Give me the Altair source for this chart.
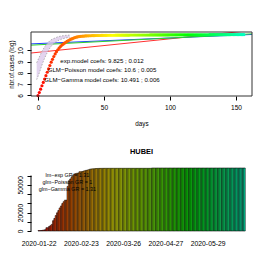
import altair as alt
import pandas as pd

# ---------------- data ----------------
days = list(range(157))
log_cases = [
    5.98, 6.25, 6.55, 6.85, 7.15, 7.45, 7.75, 8.05, 8.35, 8.65,
    8.95, 9.20, 9.45, 9.68, 9.88, 10.05, 10.20, 10.33, 10.45, 10.55,
    10.64, 10.72, 10.80, 10.87, 10.93, 10.99, 11.04, 11.09, 11.13, 11.17,
    11.20, 11.22, 11.24, 11.25, 11.26, 11.27, 11.28, 11.29, 11.29, 11.30,
    11.30, 11.31, 11.31, 11.31, 11.32, 11.32, 11.32, 11.32, 11.33, 11.33,
    11.33, 11.33, 11.33, 11.34, 11.34, 11.34, 11.34, 11.34, 11.34, 11.35,
    11.35, 11.35, 11.35, 11.35, 11.35, 11.35, 11.35, 11.35, 11.35, 11.35,
    11.36, 11.36, 11.36, 11.36, 11.36, 11.36, 11.36, 11.36, 11.36, 11.36,
    11.36, 11.36, 11.36, 11.36, 11.36, 11.37, 11.37, 11.37, 11.37, 11.37,
    11.37, 11.37, 11.37, 11.37, 11.37, 11.37, 11.37, 11.37, 11.37, 11.37,
    11.38, 11.38, 11.38, 11.38, 11.38, 11.38, 11.38, 11.38, 11.38, 11.38,
    11.38, 11.38, 11.38, 11.38, 11.38, 11.38, 11.38, 11.38, 11.38, 11.38,
    11.38, 11.38, 11.38, 11.38, 11.38, 11.38, 11.38, 11.38, 11.38, 11.38,
    11.39, 11.39, 11.39, 11.39, 11.39, 11.39, 11.39, 11.39, 11.39, 11.39,
    11.39, 11.39, 11.39, 11.39, 11.39, 11.39, 11.40, 11.40, 11.40, 11.40,
    11.40, 11.40, 11.40, 11.40, 11.40, 11.40, 11.40,
]

model_names = ["exp", "GLM-Poisson", "GLM-Gamma"]
model_intercepts = [9.825, 10.6, 10.491]
model_slopes = [0.012, 0.005, 0.006]
model_colors = ["#ff3030", "#2040ff", "#30d030"]

band_day = [-1, 1, 3, 5, 7, 9, 11, 13, 15, 18, 21, 24]
band_lo = [7.4, 8.0, 8.7, 9.3, 9.8, 10.2, 10.5, 10.7, 10.85, 11.0, 11.1, 11.15]
band_hi = [8.9, 9.4, 9.9, 10.3, 10.6, 10.85, 11.0, 11.1, 11.2, 11.28, 11.33, 11.35]

top_notes = [
    "exp.model coefs:  9.825 ; 0.012",
    "GLM\u2212Poisson model coefs:  10.6 ; 0.005",
    "GLM\u2212Gamma model coefs:  10.491 ; 0.006",
]
top_note_y = [9.08, 8.21, 7.34]
top_note_x = 48.5

hubei_cases = [
    444, 444, 549, 761, 1058, 1423, 3554, 3554, 4903, 5806,
    7153, 11177, 13522, 16678, 19665, 22112, 24953, 27100, 29631, 31728,
    33366, 33366, 48206, 54406, 56249, 58182, 59989, 61682, 62031, 62442,
    62662, 64084, 64084, 64287, 64786, 65187, 65596, 65914, 66337,
    66907, 67103, 67217, 67332, 67466, 67592, 67666, 67707, 67743, 67760,
    67773, 67781, 67786, 67790, 67794, 67798, 67799, 67800, 67800, 67800,
    67800, 67800, 67801, 67801, 67801, 67801, 67801, 67801, 67801, 67801,
    67802,
    67802, 67802, 67802, 67803, 67803, 67803, 67803, 67803, 67803, 67803,
    67803, 67803, 67803, 67803, 67803, 67803, 68128, 68128, 68128, 68128,
    68128, 68128, 68128, 68128, 68128, 68128, 68128, 68128, 68128, 68128,
    68128, 68128, 68128, 68128, 68128, 68128, 68128, 68128, 68128, 68128,
    68128, 68128, 68134, 68134, 68134, 68134, 68134, 68134, 68134, 68134,
    68134, 68134, 68134, 68134, 68134, 68134, 68135, 68135, 68135, 68135,
    68135,
    68135, 68135, 68135, 68135, 68135, 68135, 68135, 68135, 68135, 68135,
    68135, 68135, 68135, 68135, 68135, 68135, 68135, 68135, 68135, 68135,
    68135, 68135, 68135, 68135, 68135, 68135,
]
bar_index = list(range(len(hubei_cases)))
date_ticks = [0.5, 32.5, 64.5, 96.5, 128.5]
date_labels = ["2020-01-22", "2020-02-23", "2020-03-26", "2020-04-27", "2020-05-29"]
count_ticks = [0, 10000, 20000, 30000, 40000, 50000, 60000]
count_labels = ["0", "", "20000", "", "", "50000", ""]
log_ticks = [6, 7, 8, 9, 10]

legend_lines = ["lm\u2212exp GR = 1.31", "glm\u2212Poisson GR = 1", "glm\u2212Gamma GR = 1.31"]
legend_y = [60300, 52900, 45600]
legend_x = 22.3

# ---------------- layout ----------------
FONT = "Liberation Sans"
W = 221
H1 = 64
H2 = 63
X_DOM = [-5.3, 162.1]
Y1_DOM = [5.94, 11.63]

xs = alt.Scale(domain=X_DOM, nice=False, zero=False)
ys1 = alt.Scale(domain=Y1_DOM, nice=False, zero=False)
hue = alt.Scale(domain=[0, 156], range=["#ff0000", "#00ffbf"], interpolate="hsl")

top_df = pd.DataFrame({"day": days, "logc": log_cases})

rows = []
for n, a, b, c in zip(model_names, model_intercepts, model_slopes, model_colors):
    for d in X_DOM:
        rows.append({"model": n, "day": d, "v": a + b * d})
lines_df = pd.DataFrame(rows)

band_df = pd.DataFrame({"day": band_day, "lo": band_lo, "hi": band_hi})
notes_df = pd.DataFrame({"t": top_notes, "y": top_note_y, "x": [top_note_x] * 3})
one = pd.DataFrame({"a": [0]})

XA = alt.Axis(values=[0, 50, 100, 150], title="days", domain=False, grid=False,
              tickSize=4, labelPadding=4.5, titlePadding=9, labelFontSize=6.6,
              titleFontSize=6.3, titleFontWeight="normal", labelFlush=False,
              labelOverlap=False)
YA = alt.Axis(values=log_ticks, title="nbr.of.cases (log)", domain=False,
              grid=False, tickSize=4, labelPadding=4, titlePadding=3,
              labelAngle=270, labelFontSize=6.6, titleFontSize=6.3,
              titleFontWeight="normal", labelFlush=False, labelOverlap=False)


def tx(f):
    return alt.X(f, scale=xs, axis=XA, title="days")


def ty(f):
    return alt.Y(f, scale=ys1, axis=YA, title="nbr.of.cases (log)")


lines = alt.Chart(lines_df).mark_line(strokeWidth=1, clip=True).encode(
    x=tx("day:Q"), y=ty("v:Q"),
    color=alt.Color("model:N", scale=alt.Scale(domain=model_names, range=model_colors), legend=None),
)
band = alt.Chart(band_df).mark_area(color="#d9c6ea", opacity=0.75, clip=True,
                                    interpolate="monotone").encode(
    x=tx("day:Q"), y=ty("lo:Q"), y2="hi:Q")
band_lo_l = alt.Chart(band_df).mark_line(color="#a0a0a0", strokeDash=[1.5, 1.5], strokeWidth=0.8,
                                         interpolate="monotone", clip=True).encode(
    x=tx("day:Q"), y=ty("lo:Q"))
band_hi_l = alt.Chart(band_df).mark_line(color="#a0a0a0", strokeDash=[1.5, 1.5], strokeWidth=0.8,
                                         interpolate="monotone", clip=True).encode(
    x=tx("day:Q"), y=ty("hi:Q"))
pts = alt.Chart(top_df).mark_circle(size=10, opacity=1).encode(
    x=tx("day:Q"), y=ty("logc:Q"),
    color=alt.Color("day:Q", scale=hue, legend=None),
)
notes = alt.Chart(notes_df).mark_text(font=FONT, fontSize=6.1, color="black", align="center",
                                      baseline="middle").encode(
    x=tx("x:Q"), y=ty("y:Q"), text="t:N")
box = alt.Chart(one).mark_rect(filled=False, stroke="#333333", strokeWidth=1).encode(
    x=alt.value(0), x2=alt.value(W), y=alt.value(0), y2=alt.value(H1))

top = alt.layer(lines, band, band_lo_l, band_hi_l, pts, notes, box).resolve_scale(
    color="independent").properties(width=W, height=H1)

# bottom
bar_df = pd.DataFrame({"i": bar_index, "cases": hubei_cases})
bar_df["i1"] = bar_df["i"] + 1
ys2 = alt.Scale(domain=[0, 68135], nice=False, zero=True)
label_arr = "[" + ",".join("'%s'" % s for s in date_labels) + "]"
count_arr = "[" + ",".join("'%s'" % s for s in count_labels) + "]"
XB = alt.Axis(values=date_ticks, labelExpr=label_arr + "[floor(datum.value/32)]",
              domain=False, ticks=False, grid=False, labelPadding=9.5, title=None,
              labelFontSize=6.8, labelFlush=False, labelOverlap=False)
YB = alt.Axis(values=count_ticks,
              labelExpr=count_arr + "[round(datum.value/10000)]",
              domain=False, grid=False, tickSize=4, labelPadding=4, labelAngle=270,
              labelFontSize=6.6, title=None, labelFlush=False, labelOverlap=False)


def bx(f):
    return alt.X(f, scale=xs, axis=XB, title=None)


def by(f):
    return alt.Y(f, scale=ys2, axis=YB, title=None)


bars = alt.Chart(bar_df).mark_rect(stroke="black", strokeWidth=0.7, strokeOpacity=0.8).encode(
    x=bx("i:Q"), x2="i1:Q", y=by("cases:Q"), y2=alt.datum(0),
    color=alt.Color("i:Q", scale=hue, legend=None),
)
axis_line = alt.Chart(pd.DataFrame({"y0": [0], "y1": [60000]})).mark_rule(
    color="black", strokeWidth=1).encode(x=alt.value(0), y=by("y0:Q"), y2="y1:Q")
leg_df = pd.DataFrame({"t": legend_lines, "y": legend_y, "x": [legend_x] * 3})
leg = alt.Chart(leg_df).mark_text(font=FONT, fontSize=5.4, color="black", align="center",
                                  baseline="middle").encode(
    x=bx("x:Q"), y=by("y:Q"), text="t:N")

bottom = alt.layer(bars, axis_line, leg).properties(
    width=W, height=H2,
    title=alt.TitleParams("HUBEI", font=FONT, fontSize=7.4, fontWeight="bold", offset=12, color="black"),
)

chart = alt.vconcat(top, bottom, spacing=21).properties(
    padding={"left": 0, "top": 23, "right": 0, "bottom": 0}
).configure(font=FONT).configure_view(stroke=None).configure_axis(
    labelFont=FONT, titleFont=FONT, labelColor="black", titleColor="black",
    tickColor="black", tickWidth=1, labelOverlap=False,
)

chart.save("out.html", embed_options={"renderer": "svg", "actions": False})
